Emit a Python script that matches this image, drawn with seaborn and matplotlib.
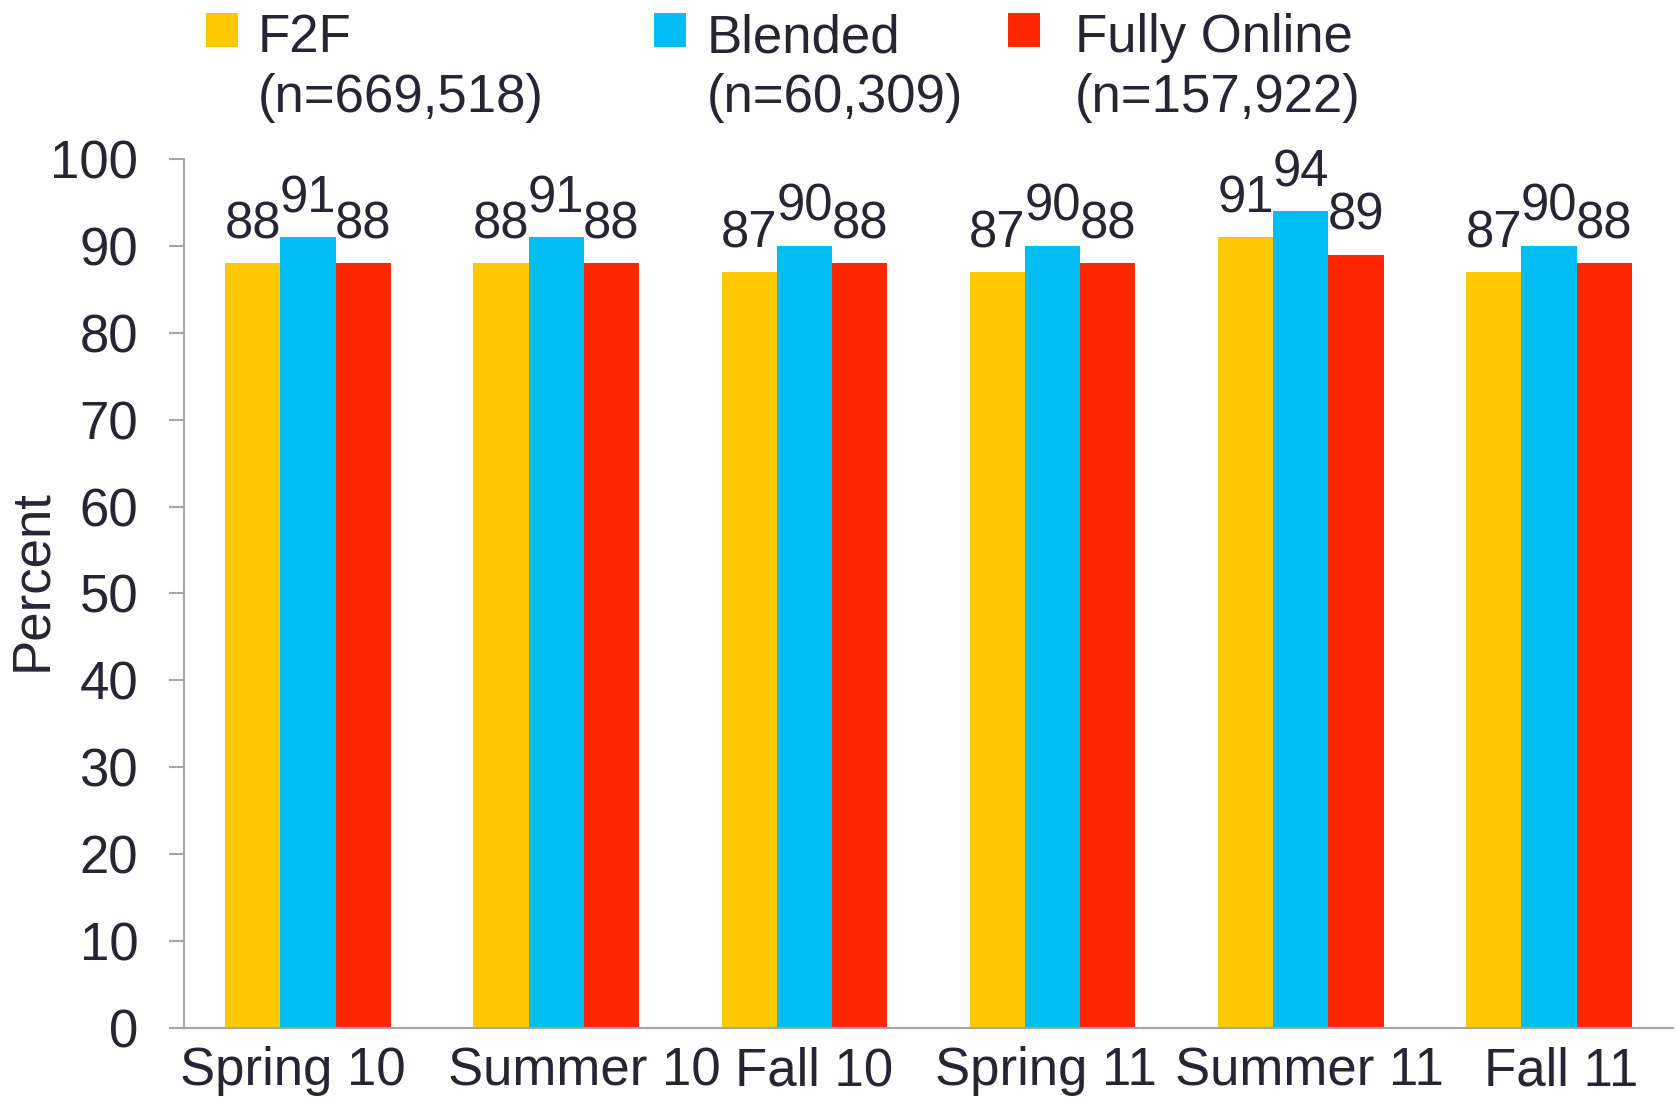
"""
Success rate by term and delivery mode (F2F / Blended / Fully Online).
"""
import pandas as pd
import matplotlib
matplotlib.use("Agg")
import matplotlib.pyplot as plt
import matplotlib.transforms as mtransforms
import seaborn as sns

sns.set_theme(style="white")
plt.rcParams['font.family'] = ['Liberation Sans', 'DejaVu Sans']

# Data
terms = ["Spring 10", "Summer 10", "Fall 10", "Spring 11", "Summer 11", "Fall 11"]
modes = ["F2F", "Blended", "Fully Online"]
f2f = [88, 88, 87, 87, 91, 87]
blended = [91, 91, 90, 90, 94, 90]
online = [88, 88, 88, 88, 89, 88]
legend_labels = ["F2F\n(n=669,518)", "Blended\n(n=60,309)", "Fully Online\n(n=157,922)"]
colors = ["#FFC800", "#00BEF2", "#FF2600"]
text_color = "#262633"
axis_color = "#A6A6A6"

# mise en page (positions de la légende, décalage des libellés x)
legend_x = [0.123, 0.390, 0.601]
legend_pad = [0.37, 0.39, 0.67]
xlabel_shift_pt = [-11, 20, 7, -5, 6, 9]

df = pd.DataFrame({
    "term": terms * 3,
    "mode": [modes[0]] * 6 + [modes[1]] * 6 + [modes[2]] * 6,
    "pct": f2f + blended + online,
})

fig = plt.figure(figsize=(16.77, 10.98), dpi=100)
ax = fig.add_axes([0.1097, 0.0638, 0.888, 0.7914])

sns.barplot(data=df, x="term", y="pct", hue="mode", order=terms, hue_order=modes,
            palette=colors, width=0.667, gap=0, saturation=1, errorbar=None,
            linewidth=0, legend=False, ax=ax)

# valeurs au-dessus des barres
for c in ax.containers:
    ax.bar_label(c, padding=10, fontsize=36.5, color=text_color, clip_on=False)

ax.set_ylim(0, 100)
ax.set_yticks(range(0, 101, 10))
ax.set_xlim(-0.5, 5.5)
ax.set_xlabel("")
ax.set_ylabel("Percent", fontsize=38, color=text_color)
ax.yaxis.set_label_coords(-0.085, 0.515)

sns.despine(ax=ax)
for s in ["left", "bottom"]:
    ax.spines[s].set_color(axis_color)
    ax.spines[s].set_linewidth(1.5)

ax.tick_params(axis="y", length=11, width=1.5, color=axis_color, pad=22,
               labelsize=38, labelcolor=text_color, left=True)
ax.tick_params(axis="x", length=0, pad=13, labelsize=38, labelcolor=text_color)

for lab, dx in zip(ax.get_xticklabels(), xlabel_shift_pt):
    lab.set_transform(lab.get_transform() +
                      mtransforms.ScaledTranslation(dx / 72, 0, fig.dpi_scale_trans))

# une légende par série, placée comme dans l'original
for cont, lab, x, pad in zip(ax.containers, legend_labels, legend_x, legend_pad):
    leg = fig.legend([cont], [lab], loc="upper left", bbox_to_anchor=(x, 0.988),
                     frameon=False, fontsize=38, handlelength=0.6,
                     handleheight=0.6, handletextpad=pad, borderpad=0,
                     borderaxespad=0, labelcolor=text_color)
    # carré aligné sur la première ligne
    for col in leg._legend_handle_box.get_children():
        for item in col.get_children():
            item.align = "top"
    for t in leg.get_texts():
        t.set_linespacing(1.25)

fig.savefig("out.png", dpi=100)
